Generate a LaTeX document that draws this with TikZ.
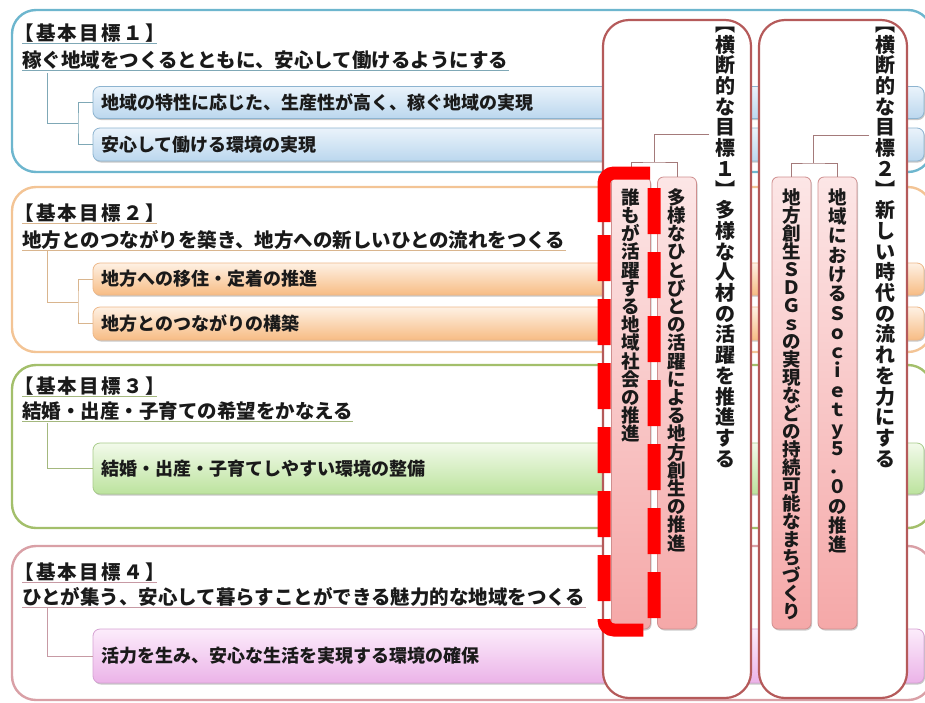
\documentclass[tikz,border=0pt]{standalone}
\usepackage{fontspec}
\newfontfamily\jp{Noto Sans CJK JP}
\newfontfamily\jph{Noto Sans CJK JP}[LetterSpace=12]
\usetikzlibrary{shadows}
\ExplSyntaxOn
\NewDocumentCommand\vtext{mm}{\vbox{\offinterlineskip\tl_map_inline:nn{#2}{\hbox_to_wd:nn{1em}{\hss\raisebox{0pt}[#1][0pt]{##1}\hss}}}}
\ExplSyntaxOff
\definecolor{bo1}{HTML}{6DB6CE}
\definecolor{bo2}{HTML}{F3C495}
\definecolor{bo3}{HTML}{A3BF6B}
\definecolor{bo4}{HTML}{D9A0A6}
\definecolor{blA}{HTML}{EAF3FB}\definecolor{blB}{HTML}{BBD7EE}\definecolor{blC}{HTML}{8DB4D0}
\definecolor{orA}{HTML}{FEF1E4}\definecolor{orB}{HTML}{F7BC84}\definecolor{orC}{HTML}{EDB889}
\definecolor{grA}{HTML}{F2FAEA}\definecolor{grB}{HTML}{BCE39E}\definecolor{grC}{HTML}{A8CB8A}
\definecolor{piA}{HTML}{FCECFB}\definecolor{piB}{HTML}{EBB3E8}\definecolor{piC}{HTML}{D6A2D3}
\definecolor{pnl}{HTML}{B55A5A}
\definecolor{psA}{HTML}{FCE6E6}\definecolor{psB}{HTML}{F5A8A8}\definecolor{psC}{HTML}{CF8F8F}
\definecolor{tr1}{HTML}{7FA8B6}\definecolor{tr2}{HTML}{D9B58E}
\definecolor{tr3}{HTML}{A4B87E}\definecolor{tr4}{HTML}{C79AA4}
\definecolor{ptr}{HTML}{A47A7A}
\definecolor{ink}{HTML}{1A1A1A}
\tikzset{
  obox/.style={draw=#1, line width=2.4pt, rounded corners=24pt, fill=white, minimum width=920pt, inner sep=0pt},
  sbox/.style={rounded corners=7pt, minimum width=831pt, line width=0.8pt, inner sep=0pt,
    drop shadow={shadow xshift=1pt, shadow yshift=-1.5pt, fill=black, opacity=0.22}},
  htxt/.style={font=\jp\bfseries\fontsize{19.5}{20}\selectfont, inner sep=0pt, anchor=west, text=ink},
  hdtxt/.style={font=\jph\bfseries\fontsize{19.5}{20}\selectfont, inner sep=0pt, anchor=west, text=ink},
  stxt/.style={font=\jp\bfseries\fontsize{18}{20}\selectfont, inner sep=0pt, anchor=west, text=ink},
  uline/.style={draw=#1, line width=1.2pt},
  tree/.style={draw=#1, line width=0.9pt},
  panel/.style={draw=pnl, line width=2.2pt, rounded corners=26pt, fill=white, minimum width=148pt, minimum height=678pt, inner sep=0pt},
  psub/.style={draw=psC, line width=0.8pt, rounded corners=6pt, top color=psA, bottom color=psB,
    minimum width=39pt, minimum height=452pt, inner sep=0pt,
    drop shadow={shadow xshift=1pt, shadow yshift=-1.5pt, fill=black, opacity=0.2}},
  vtit/.style={font=\jp\bfseries\fontsize{20}{20}\selectfont, inner sep=0pt, anchor=north, text=ink},
  vsub/.style={font=\jp\bfseries\fontsize{18.5}{18}\selectfont, inner sep=0pt, anchor=north, text=ink},
  ptree/.style={draw=ptr, line width=0.9pt},
  redmark/.style={draw=red, line width=13pt, line cap=butt, rounded corners=10pt}
}
\begin{document}
\begin{tikzpicture}[x=1pt,y=-1pt]
\useasboundingbox (0,0) rectangle (925,702);
\begin{scope}
\clip (0,0) rectangle (925,702);
% ---------- outer boxes ----------
\node[obox=bo1, minimum height=162pt] (B1) at (472,91) {};
\node[obox=bo2, minimum height=165pt] (B2) at (472,269.5) {};
\node[obox=bo3, minimum height=163pt] (B3) at (472,446.5) {};
\node[obox=bo4, minimum height=154pt] (B4) at (472,623) {};
% ---------- sub boxes ----------
\node[sbox, top color=blA, bottom color=blB, draw=blC, minimum height=32pt] (S1a) at (508.5,102.5) {};
\node[sbox, top color=blA, bottom color=blB, draw=blC, minimum height=33pt] (S1b) at (508.5,144.5) {};
\node[sbox, top color=orA, bottom color=orB, draw=orC, minimum height=32pt] (S2a) at (508.5,279) {};
\node[sbox, top color=orA, bottom color=orB, draw=orC, minimum height=33pt] (S2b) at (508.5,323.5) {};
\node[sbox, top color=grA, bottom color=grB, draw=grC, minimum height=51pt] (S3) at (508.5,468.5) {};
\node[sbox, top color=piA, bottom color=piB, draw=piC, minimum height=54pt] (S4) at (508.5,656) {};
% ---------- headings ----------
\node[hdtxt] (H1) at (14,33) {【基本目標１】};
\node[htxt] (L1) at (22,60) {稼ぐ地域をつくるとともに、安心して働けるようにする};
\node[hdtxt] (H2) at (14,213) {【基本目標２】};
\node[htxt] (L2) at (22,240) {地方とのつながりを築き、地方への新しいひとの流れをつくる};
\node[hdtxt] (H3) at (14,386) {【基本目標３】};
\node[htxt] (L3) at (22,411) {結婚・出産・子育ての希望をかなえる};
\node[hdtxt] (H4) at (14,572) {【基本目標４】};
\node[htxt] (L4) at (22,597) {ひとが集う、安心して暮らすことができる魅力的な地域をつくる};
\draw[uline=tr1] ([xshift=8pt,yshift=-1pt]H1.south west) -- ([xshift=-8pt,yshift=-1pt]H1.south east);
\draw[uline=tr1] ([yshift=-1pt]L1.south west) -- ([yshift=-1pt]L1.south east);
\draw[uline=tr2] ([xshift=8pt,yshift=-1pt]H2.south west) -- ([xshift=-8pt,yshift=-1pt]H2.south east);
\draw[uline=tr2] ([yshift=-1pt]L2.south west) -- ([yshift=-1pt]L2.south east);
\draw[uline=tr3] ([xshift=8pt,yshift=-1pt]H3.south west) -- ([xshift=-8pt,yshift=-1pt]H3.south east);
\draw[uline=tr3] ([yshift=-1pt]L3.south west) -- ([yshift=-1pt]L3.south east);
\draw[uline=tr4] ([xshift=8pt,yshift=-1pt]H4.south west) -- ([xshift=-8pt,yshift=-1pt]H4.south east);
\draw[uline=tr4] ([yshift=-1pt]L4.south west) -- ([yshift=-1pt]L4.south east);
% ---------- sub texts ----------
\node[stxt] (T1a) at (101,102.5) {地域の特性に応じた、生産性が高く、稼ぐ地域の実現};
\node[stxt] (T1b) at (101,144.5) {安心して働ける環境の実現};
\node[stxt] (T2a) at (101,279) {地方への移住・定着の推進};
\node[stxt] (T2b) at (101,323.5) {地方とのつながりの構築};
\node[stxt] (T3) at (101,468.5) {結婚・出産・子育てしやすい環境の整備};
\node[stxt] (T4) at (101,656) {活力を生み、安心な生活を実現する環境の確保};
% ---------- left trees ----------
\coordinate (k1) at (47,73);  \coordinate (j1) at (78,123);
\draw[tree=tr1] (k1) |- (j1);
\draw[tree=tr1] (S1a.west) -| (j1) |- (S1b.west);
\coordinate (k2) at (47,251); \coordinate (j2) at (78,302);
\draw[tree=tr2] (k2) |- (j2);
\draw[tree=tr2] (S2a.west) -| (j2) |- (S2b.west);
\coordinate (k3) at (47,423);
\draw[tree=tr3] (k3) |- (S3.west);
\coordinate (k4) at (47,607);
\draw[tree=tr4] (k4) |- (S4.west);
% ---------- panels ----------
\node[panel] (P1) at (677,359) {};
\node[panel] (P2) at (833,359) {};
\node[psub] (PA) at (631,403) {};
\node[psub] (PB) at (677,403) {};
\node[psub] (PC) at (791.5,403) {};
\node[psub] (PD) at (837.5,403) {};
\node[vtit] (VT1) at (725,10.5) {\vtext{20.7pt}{︻横断的な目標１︼多様な人材の活躍を推進する}};
\node[vtit] (VT2) at (885,10.5) {\vtext{20.7pt}{︻横断的な目標２︼新しい時代の流れを力にする}};
\node[vsub] (VA) at (631,185.8) {\vtext{18.2pt}{誰もが活躍する地域社会の推進}};
\node[vsub] (VB) at (677,185.8) {\vtext{18.2pt}{多様なひとびとの活躍による地方創生の推進}};
\node[vsub] (VC) at (791.5,186) {\vtext{18pt}{地方創生ＳＤＧｓの実現などの持続可能なまちづくり}};
\node[vsub] (VD) at (837.5,184.7) {\vtext{19.3pt}{地域におけるＳｏｃｉｅｔｙ５．０の推進}};
% ---------- panel trees ----------
\coordinate (h1) at (709,134); \coordinate (q1) at (654,162);
\draw[ptree] (h1) -| (q1);
\draw[ptree] (PA.north) |- (q1) -| (PB.north);
\coordinate (h2) at (869,135); \coordinate (q2) at (813,163);
\draw[ptree] (h2) -| (q2);
\draw[ptree] (PC.north) |- (q2) -| (PD.north);
% ---------- red dashed mark ----------
\coordinate (r0) at (650,173); \coordinate (r1) at (604,173); \coordinate (r2) at (604,222);
\draw[redmark] (r0) -- (r1) -- (r2);
\coordinate (r3) at (604,235); \coordinate (r4) at (604,630);
\coordinate (r5) at (654,630); \coordinate (r6) at (654,188);
\draw[redmark, dash pattern=on 46pt off 18pt] (r3) -- (r4) -- (r5) -- (r6);
\end{scope}
\end{tikzpicture}
\end{document}
